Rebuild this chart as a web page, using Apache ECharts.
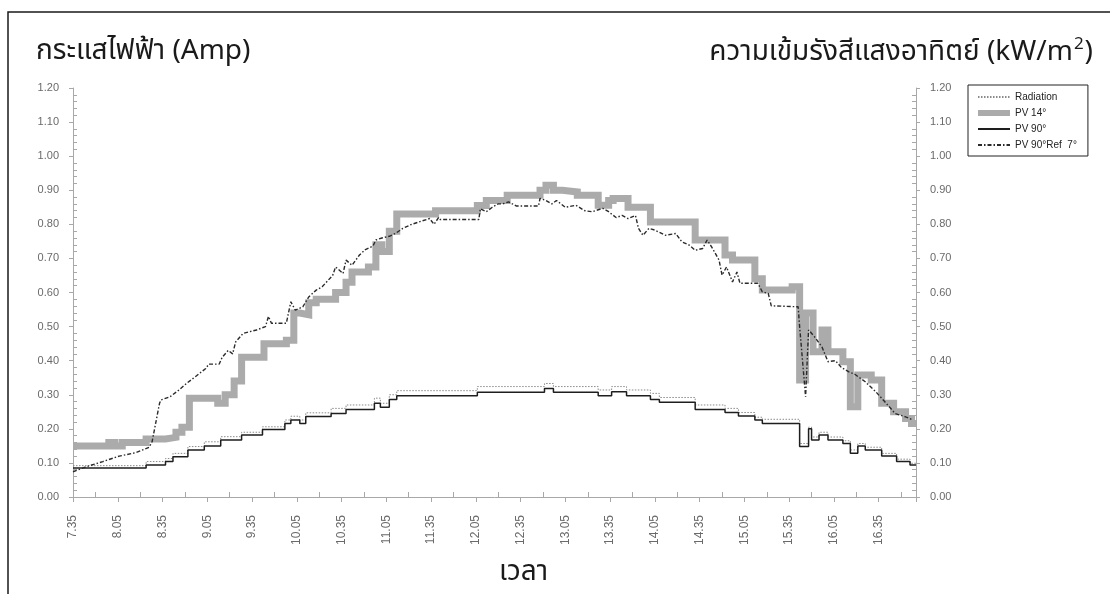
<!DOCTYPE html>
<html>
<head>
<meta charset="utf-8">
<script src="https://cdn.jsdelivr.net/npm/echarts@6/dist/echarts.min.js"></script>
<style>
  html, body { margin: 0; padding: 0; background: #fff; }
  #chart { width: 1110px; height: 594px; }
</style>
</head>
<body>
<div id="chart"></div>
<script>
// Tick labels along the time axis (every 30 minutes from 7.35)
const tickLabels = ['7.35', '8.05', '8.35', '9.05', '9.35', '10.05', '10.35', '11.05', '11.35',
  '12.05', '12.35', '13.05', '13.35', '14.05', '14.35', '15.05', '15.35', '16.05', '16.35'];

// PV 14° current (A), each value holds until the next time
const pv14Time = ['7.35','7.59','8.03','8.08','8.24','8.37','8.44','8.48','8.53','9.12','9.17','9.23','9.28',
  '9.43','9.58','10.03','10.07','10.13','10.18','10.31','10.38','10.42','10.53','10.58','11.02','11.07','11.12',
  '11.38','12.06','12.12','12.26','12.48','12.52','12.57','13.03','13.13','13.27','13.34','13.37','13.47',
  '14.02','14.32','14.52','14.57','15.12','15.17','15.37','15.42','15.46','15.51','15.57','16.01','16.11',
  '16.16','16.21','16.30','16.37','16.45','16.53','16.57','17.00'];
const pv14Value = [0.15,0.16,0.15,0.16,0.17,0.175,0.19,0.205,0.29,0.275,0.30,0.34,0.41,
  0.45,0.46,0.54,0.535,0.57,0.58,0.60,0.63,0.66,0.675,0.74,0.72,0.78,0.83,
  0.84,0.855,0.87,0.885,0.90,0.915,0.90,0.895,0.885,0.856,0.87,0.876,0.85,
  0.807,0.754,0.71,0.695,0.64,0.607,0.617,0.343,0.54,0.426,0.49,0.426,0.397,
  0.265,0.358,0.343,0.275,0.25,0.23,0.216,0.216];

// PV 90° current (A), stepped
const pv90Time = ['7.35','8.24','8.37','8.42','8.52','9.03','9.14','9.28','9.42','9.57','10.01','10.07','10.11',
  '10.28','10.38','10.57','11.01','11.07','11.12','12.06','12.51','12.57','13.27','13.36','13.46','14.02',
  '14.08','14.32','14.52','15.01','15.12','15.17','15.42','15.48','15.50','15.55','16.01','16.11','16.16',
  '16.21','16.26','16.37','16.47','16.56','17.00'];
const pv90Value = [0.085,0.094,0.104,0.118,0.138,0.15,0.167,0.182,0.198,0.216,0.226,0.216,0.236,
  0.245,0.257,0.275,0.263,0.286,0.297,0.307,0.318,0.307,0.297,0.309,0.297,0.286,
  0.278,0.257,0.248,0.238,0.226,0.216,0.148,0.20,0.167,0.182,0.167,0.157,0.128,
  0.15,0.138,0.12,0.104,0.094,0.094];

// Solar radiation (kW/m2), stepped
const radTime = pv90Time;
const radValue = [0.092,0.104,0.113,0.128,0.148,0.162,0.177,0.19,0.206,0.226,0.237,0.226,0.247,
  0.26,0.27,0.29,0.275,0.30,0.312,0.324,0.333,0.324,0.314,0.324,0.314,0.304,
  0.292,0.27,0.26,0.248,0.234,0.228,0.157,0.205,0.176,0.19,0.176,0.165,0.138,
  0.157,0.146,0.128,0.111,0.099,0.099];

// PV 90° with 7° reflector current (A)
const refTime = ['7.35','7.44','7.55','8.06','8.17','8.26','8.28','8.33','8.34','8.40','8.46','8.51','8.57',
  '9.04','9.06','9.13','9.15','9.19','9.22','9.24','9.29','9.38','9.44','9.46','9.48','9.58','10.01','10.04',
  '10.09','10.13','10.18','10.22','10.29','10.31','10.36','10.38','10.42','10.47','10.51','10.56','10.58',
  '11.02','11.07','11.11','11.16','11.22','11.29','11.34','11.37','11.40','11.41','12.07','12.08','12.12',
  '12.16','12.20','12.23','12.27','12.32','12.47','12.48','12.52','12.56','12.59','13.05','13.12','13.18',
  '13.23','13.30','13.34','13.39','13.43','13.47','13.52','13.54','13.57','14.01','14.05','14.12','14.19',
  '14.23','14.28','14.32','14.37','14.40','14.43','14.48','14.50','14.53','14.57','15.00','15.02','15.14',
  '15.17','15.21','15.23','15.41','15.42','15.46','15.48','15.52','15.57','16.01','16.06','16.10','16.15',
  '16.19','16.26','16.33','16.39','16.46','16.53','16.58'];
const refValue = [0.074,0.089,0.104,0.12,0.13,0.146,0.162,0.275,0.285,0.294,0.314,0.333,0.353,
  0.377,0.39,0.39,0.41,0.43,0.42,0.455,0.48,0.49,0.50,0.53,0.51,0.51,0.573,0.548,
  0.558,0.587,0.607,0.617,0.65,0.675,0.656,0.695,0.68,0.71,0.726,0.736,0.754,
  0.76,0.765,0.773,0.788,0.80,0.81,0.817,0.80,0.82,0.814,0.814,0.846,0.837,
  0.85,0.86,0.86,0.866,0.854,0.854,0.876,0.87,0.86,0.87,0.85,0.856,0.84,
  0.837,0.847,0.837,0.82,0.826,0.817,0.826,0.788,0.768,0.788,0.783,0.768,0.773,
  0.749,0.739,0.724,0.729,0.754,0.734,0.695,0.651,0.675,0.631,0.66,0.627,0.627,
  0.602,0.597,0.561,0.558,0.50,0.294,0.49,0.47,0.44,0.397,0.40,0.38,0.367,
  0.36,0.338,0.309,0.28,0.245,0.235,0.226];

// Minutes after 7.35 for a clock string "H.MM"
const START = 7 * 60 + 35;
function toMin(t) {
  const [h, m] = t.split('.');
  return Number(h) * 60 + Number(m) - START;
}
function pairs(times, values) {
  return times.map((t, i) => [toMin(t), values[i]]);
}

const thaiFont = "'Noto Sans Thai', 'Noto Sans Thai Looped', 'Noto Sans', sans-serif";
const numFont = "'Liberation Sans', Arial, sans-serif";
const axisColor = '#a8a8a8';
const labelColor = '#6a6a6a';

const chart = echarts.init(document.getElementById('chart'), null, { renderer: 'canvas' });

const yAxisBase = {
  type: 'value',
  min: 0,
  max: 1.2,
  interval: 0.1,
  splitLine: { show: false },
  axisLine: { show: true, lineStyle: { color: axisColor, width: 1 } },
  axisTick: { show: true, length: 4, lineStyle: { color: axisColor } },
  minorTick: { show: true, splitNumber: 5, length: -4, lineStyle: { color: axisColor } },
  axisLabel: {
    color: labelColor, fontSize: 11, fontFamily: numFont, margin: 14,
    formatter: v => v.toFixed(2)
  }
};

chart.setOption({
  backgroundColor: '#fff',
  animation: false,
  title: [
    {
      text: 'กระแสไฟฟ้า (Amp)',
      left: 31, top: 34,
      textStyle: { fontSize: 28, fontWeight: 'normal', color: '#1a1a1a', fontFamily: thaiFont }
    },
    {
      text: '{a|ความเข้มรังสีแสงอาทิตย์ (kW/m}{s|2}{a|)}',
      right: 12, top: 32,
      textStyle: {
        fontWeight: 'normal',
        rich: {
          a: { fontSize: 28, fontWeight: 'normal', color: '#1a1a1a', fontFamily: thaiFont, verticalAlign: 'bottom' },
          s: { fontSize: 17, fontWeight: 'normal', color: '#1a1a1a', fontFamily: thaiFont, verticalAlign: 'top', padding: [0, 1, 14, 1] }
        }
      }
    },
    {
      text: 'เวลา',
      left: 494, top: 555,
      textStyle: { fontSize: 28, fontWeight: 'normal', color: '#1a1a1a', fontFamily: thaiFont }
    }
  ],
  legend: {
    orient: 'vertical',
    left: 968, top: 85,
    padding: [7, 11, 6, 7],
    itemGap: 6,
    itemWidth: 32,
    itemHeight: 11,
    borderColor: '#222',
    borderWidth: 1,
    borderRadius: 0,
    backgroundColor: '#fff',
    itemStyle: { opacity: 0 },
    textStyle: { fontSize: 10, color: '#222', fontFamily: numFont },
    data: [
      { name: 'Radiation' },
      { name: 'PV 14°', lineStyle: { width: 6 } },
      { name: 'PV 90°' },
      { name: 'PV 90°Ref  7°' }
    ]
  },
  grid: { left: 73, right: 194, top: 88, bottom: 97, containLabel: false },
  xAxis: {
    type: 'value',
    min: 0,
    max: 565,
    interval: 30,
    splitLine: { show: false },
    axisLine: { show: true, lineStyle: { color: axisColor, width: 1 } },
    axisTick: { show: true, length: 5, lineStyle: { color: axisColor } },
    minorTick: { show: true, splitNumber: 2, length: -5, lineStyle: { color: axisColor } },
    axisLabel: {
      rotate: 90, color: labelColor, fontSize: 12, fontFamily: numFont, margin: 18,
      showMaxLabel: false,
      formatter: v => tickLabels[Math.round(v / 30)] || ''
    }
  },
  yAxis: [
    Object.assign({}, yAxisBase, { position: 'left' }),
    Object.assign({}, yAxisBase, { position: 'right' })
  ],
  graphic: [
    {
      type: 'rect', silent: true, z: -1,
      shape: { x: 8, y: 12, width: 1200, height: 700 },
      style: { fill: 'none', stroke: '#1a1a1a', lineWidth: 1.5 }
    }
  ],
  series: [
    {
      name: 'PV 14°', type: 'line', step: 'end', symbol: 'none', z: 1,
      data: pairs(pv14Time, pv14Value),
      lineStyle: { color: '#ababab', width: 7, cap: 'butt', join: 'miter' },
      itemStyle: { color: '#ababab' }
    },
    {
      name: 'Radiation', type: 'line', step: 'end', symbol: 'none', z: 2,
      data: pairs(radTime, radValue),
      lineStyle: { color: '#8a8a8a', width: 1, type: [1.5, 1.5] },
      itemStyle: { color: '#8a8a8a' }
    },
    {
      name: 'PV 90°', type: 'line', step: 'end', symbol: 'none', z: 3,
      data: pairs(pv90Time, pv90Value),
      lineStyle: { color: '#1e1e1e', width: 1.5 },
      itemStyle: { color: '#1e1e1e' }
    },
    {
      name: 'PV 90°Ref  7°', type: 'line', symbol: 'none', z: 4,
      data: pairs(refTime, refValue),
      lineStyle: { color: '#2a2a2a', width: 1.4, type: [4, 2, 1.5, 2] },
      itemStyle: { color: '#2a2a2a' }
    }
  ]
});
</script>
</body>
</html>
